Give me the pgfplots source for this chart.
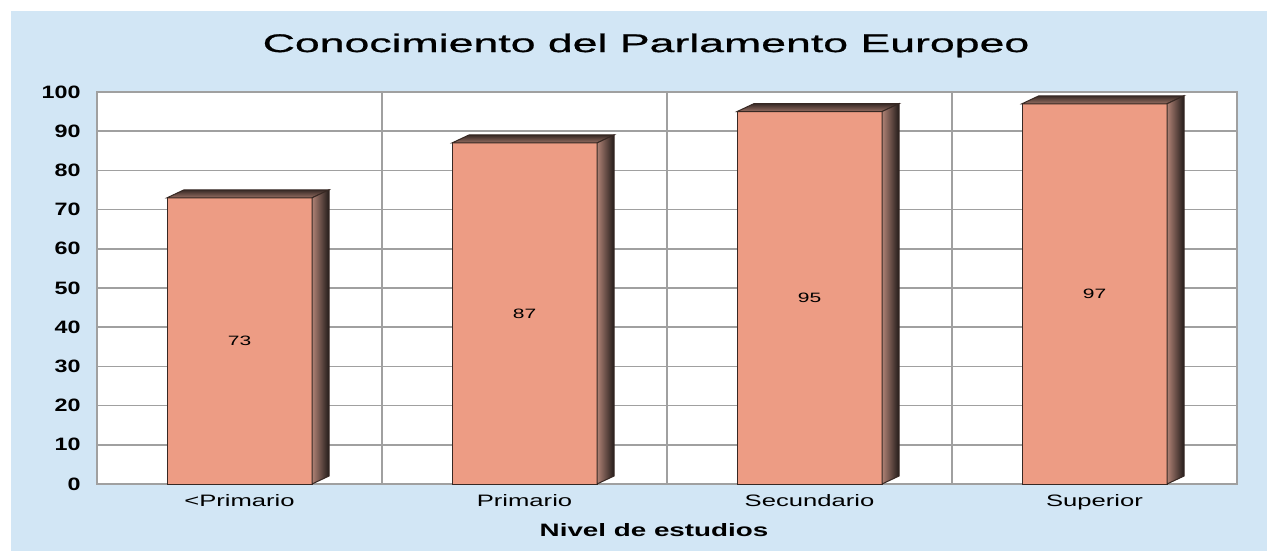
\documentclass[border=0pt]{standalone}
\usepackage{pgfplots}
\pgfplotsset{compat=1.18}
\usepackage{pgfplotstable}
\usepackage{fontspec}
\setmainfont{Liberation Sans}[FakeStretch=1.55]
\newfontfamily\tickfont{Liberation Sans}[FakeStretch=1.3]
\newfontfamily\titlefont{Liberation Sans}[FakeStretch=1.75, FakeBold=0.8]

\definecolor{fondo}{RGB}{210,230,245}
\definecolor{salmon}{RGB}{237,156,132}
\definecolor{borde}{RGB}{55,40,35}
\definecolor{rejilla}{RGB}{160,160,160}
\definecolor{ladoA}{RGB}{175,130,117}
\definecolor{ladoB}{RGB}{35,28,26}
\definecolor{techoA}{RGB}{150,110,98}
\definecolor{techoB}{RGB}{55,42,38}

\pgfdeclareplotmark{nada}{}

% nivel de estudios -> porcentaje que conoce el Parlamento
\pgfplotstableread{
x y
0 73
1 87
2 95
3 97
}\datos

\begin{document}
\begin{tikzpicture}[x=1bp,y=1bp]
% fondo (1 px del original = 0.5 bp)
\fill[white] (-48.5,-33.5) rectangle (585,242);
\fill[fondo] (-43,-33.5) rectangle (585,236.5);
\begin{axis}[
  at={(0,0)}, anchor=south west,
  width=570bp, height=196bp, scale only axis,
  xmin=-0.5, xmax=3.5, ymin=0, ymax=100,
  xtick={0,1,2,3},
  xticklabels={{<Primario},{Primario},{Secundario},{Superior}},
  ytick={0,10,...,100},
  minor xtick={0.5,1.5,2.5},
  ymajorgrids, xminorgrids,
  grid style={rejilla, line width=0.75bp},
  minor grid style={rejilla, line width=0.75bp},
  major tick length=0pt, minor tick length=0pt,
  axis line style={rejilla, line width=1.4bp},
  axis background/.style={fill=white},
  /pgf/number format/assume math mode=true,
  yticklabel style={font=\tickfont\bfseries\fontsize{9}{10}\selectfont,
    anchor=east, inner sep=0pt, xshift=-8bp},
  xticklabel style={font=\fontsize{8.3}{10}\selectfont,
    anchor=north, inner sep=0pt, yshift=-5bp},
  xlabel={Nivel de estudios},
  xlabel style={font=\bfseries\fontsize{9}{11}\selectfont,
    at={(axis description cs:0.4886,0)}, anchor=north, inner sep=0pt, yshift=-19.5bp},
  title={Conocimiento del Parlamento Europeo},
  title style={font=\titlefont\fontsize{12.8}{15}\selectfont,
    at={(axis description cs:0.4816,1)}, anchor=base, inner sep=0pt, yshift=14bp},
]
% cara frontal
\addplot[ybar, bar width=72.5bp, fill=salmon, draw=borde, line width=0.5bp]
  table[x=x, y=y] {\datos};
% techo, lateral y etiqueta de cada barra
\addplot[only marks, mark=nada, scatter,
  visualization depends on={rawy \as \valor},
  scatter/@pre marker code/.code={%
    \pgfmathsetlengthmacro{\h}{\valor*1.96bp}%
    \path[draw=borde, line width=0.5bp, top color=techoB, bottom color=techoA]
      (-36.25bp,0pt) -- (-27.75bp,4bp) -- (44.75bp,4bp) -- (36.25bp,0pt) -- cycle;
    \path[draw=borde, line width=0.5bp, left color=ladoA, right color=ladoB]
      (36.25bp,0pt) -- (44.75bp,4bp) -- (44.75bp,{4bp-\h}) -- (36.25bp,{-\h}) -- cycle;
    \node[font=\fontsize{6.8}{8}\selectfont, inner sep=0pt, text=black]
      at (0pt,{-\h/2}) {\pgfmathprintnumber{\valor}};
  },
  scatter/@post marker code/.code={},
] table[x=x, y=y] {\datos};
\end{axis}
\end{tikzpicture}
\end{document}
